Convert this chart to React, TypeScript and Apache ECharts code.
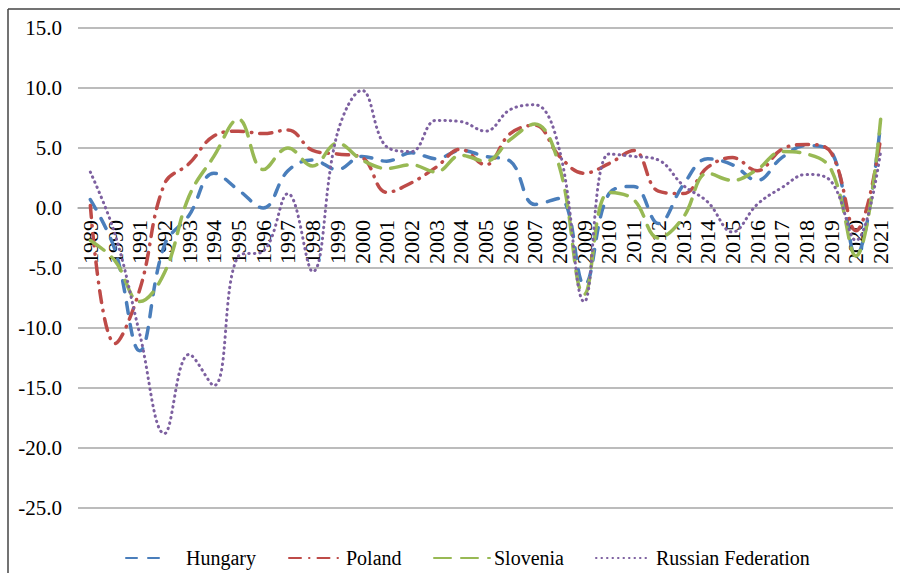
import React, { useEffect, useRef } from "react";
import * as echarts from "echarts";

const years = [
  "1989", "1990", "1991", "1992", "1993", "1994", "1995", "1996", "1997", "1998",
  "1999", "2000", "2001", "2002", "2003", "2004", "2005", "2006", "2007", "2008",
  "2009", "2010", "2011", "2012", "2013", "2014", "2015", "2016", "2017", "2018",
  "2019", "2020", "2021",
];

const hungary = [
  0.7, -3.5, -11.9, -3.1, -0.6, 2.9, 1.5, 0.0, 3.1, 4.0,
  3.2, 4.3, 3.9, 4.6, 4.1, 4.8, 4.3, 3.9, 0.3, 0.8,
  -6.4, 1.2, 1.8, -1.3, 1.9, 4.1, 3.6, 2.3, 4.2, 5.2,
  4.7, -4.0, 7.1,
];

const poland = [
  0.2, -11.3, -6.8, 2.0, 3.7, 6.0, 6.4, 6.2, 6.5, 4.8,
  4.5, 4.2, 1.3, 2.1, 3.4, 4.9, 3.6, 6.2, 6.9, 4.3,
  2.9, 3.7, 4.8, 1.4, 1.2, 3.4, 4.2, 3.1, 4.9, 5.3,
  4.6, -1.9, 5.8,
];

const slovenia = [
  -2.7, -4.4, -7.8, -5.4, 1.0, 4.3, 7.4, 3.2, 5.0, 3.5,
  5.4, 4.0, 3.3, 3.6, 3.0, 4.4, 3.9, 5.7, 7.0, 3.4,
  -7.2, 1.3, 0.7, -2.5, -0.8, 2.9, 2.3, 3.2, 4.7, 4.5,
  3.2, -4.0, 7.4,
];

const russia = [
  3.0, -2.2, -10.5, -18.8, -12.2, -14.8, -4.0, -3.6, 1.2, -5.3,
  6.2, 9.8, 5.1, 4.7, 7.3, 7.2, 6.4, 8.2, 8.6, 4.8,
  -7.8, 4.5, 4.3, 4.0, 1.9, 0.5, -2.0, 0.3, 1.7, 2.8,
  2.2, -2.7, 4.7,
];

const seriesNames = ["Hungary", "Poland", "Slovenia", "Russian Federation"];

const Y_MIN = -25;
const Y_MAX = 15;
const Y_STEP = 5;

const FONT = "Times New Roman, Liberation Serif, DejaVu Serif, serif";

export default function App() {
  const ref = useRef<HTMLDivElement>(null);

  useEffect(() => {
    if (!ref.current) return;
    const chart = echarts.init(ref.current, undefined, { renderer: "svg" });

    const W = 900;
    const H = 573;
    const gridTop = 28;
    const gridBottom = 65;
    const plotH = H - gridTop - gridBottom;
    // place the category axis on the zero line
    const zeroOffset = -((0 - Y_MIN) / (Y_MAX - Y_MIN)) * plotH;

    const legendText = { fontFamily: FONT, fontSize: 20, color: "#000" };
    const hiddenSymbol = { color: "transparent", borderColor: "transparent", borderWidth: 0, opacity: 0 };

    const mk = (name: string, data: number[], color: string, dash: number[], width: number) => ({
      name,
      type: "line",
      data,
      smooth: 0.4,
      symbol: "none",
      showSymbol: false,
      lineStyle: { color, width, type: dash, cap: "round" },
      itemStyle: { color },
    });

    chart.setOption({
      animation: false,
      backgroundColor: "#ffffff",
      textStyle: { fontFamily: FONT },
      grid: { left: 78, right: 7, top: gridTop, bottom: gridBottom, containLabel: false },
      xAxis: {
        type: "category",
        data: years,
        boundaryGap: true,
        offset: zeroOffset,
        axisLine: { show: true, onZero: false, lineStyle: { color: "#a6a6a6", width: 1.5 } },
        axisTick: { show: false },
        axisLabel: {
          interval: 0,
          rotate: 90,
          margin: 12,
          fontFamily: FONT,
          fontSize: 22,
          color: "#000",
        },
        splitLine: { show: false },
      },
      yAxis: {
        type: "value",
        min: Y_MIN,
        max: Y_MAX,
        interval: Y_STEP,
        axisLine: { show: false, onZero: false },
        axisTick: { show: false },
        axisLabel: {
          margin: 16,
          fontFamily: FONT,
          fontSize: 21,
          color: "#000",
          formatter: (v: number) => v.toFixed(1),
        },
        splitLine: { show: true, lineStyle: { color: "#a6a6a6", width: 1.5 } },
      },
      legend: [
        {
          data: [seriesNames[0]], left: 120, top: 543, itemWidth: 43, itemHeight: 14,
          itemStyle: hiddenSymbol,
          textStyle: { ...legendText, padding: [0, 0, 0, 12] },
        },
        {
          data: [seriesNames[1]], left: 283, top: 543, itemWidth: 54, itemHeight: 14,
          itemStyle: hiddenSymbol,
          textStyle: { ...legendText, padding: [0, 0, 0, -2] },
        },
        {
          data: [seriesNames[2]], left: 428, top: 543, itemWidth: 56, itemHeight: 14,
          itemStyle: hiddenSymbol,
          textStyle: { ...legendText, padding: [0, 0, 0, -1] },
        },
        {
          data: [seriesNames[3]], left: 590, top: 543, itemWidth: 50, itemHeight: 14,
          itemStyle: hiddenSymbol,
          textStyle: { ...legendText, padding: [0, 0, 0, 5] },
        },
      ],
      graphic: [
        { type: "line", shape: { x1: 8, y1: 9, x2: 8, y2: H }, style: { stroke: "#444", lineWidth: 1.5 } },
        { type: "line", shape: { x1: 8, y1: 9, x2: W, y2: 9 }, style: { stroke: "#444", lineWidth: 1.5 } },
      ],
      series: [
        mk(seriesNames[0], hungary, "#4a7ebb", [11, 11], 3.5),
        mk(seriesNames[1], poland, "#be4b48", [12, 8, 0.5, 8], 3.5),
        mk(seriesNames[2], slovenia, "#98b954", [17, 10], 3.5),
        mk(seriesNames[3], russia, "#7d60a0", [0.5, 5], 3),
      ],
    });

    return () => chart.dispose();
  }, []);

  return (
    <div
      ref={ref}
      style={{ position: "fixed", left: 0, top: 0, width: 900, height: 573, background: "#fff" }}
    />
  );
}
